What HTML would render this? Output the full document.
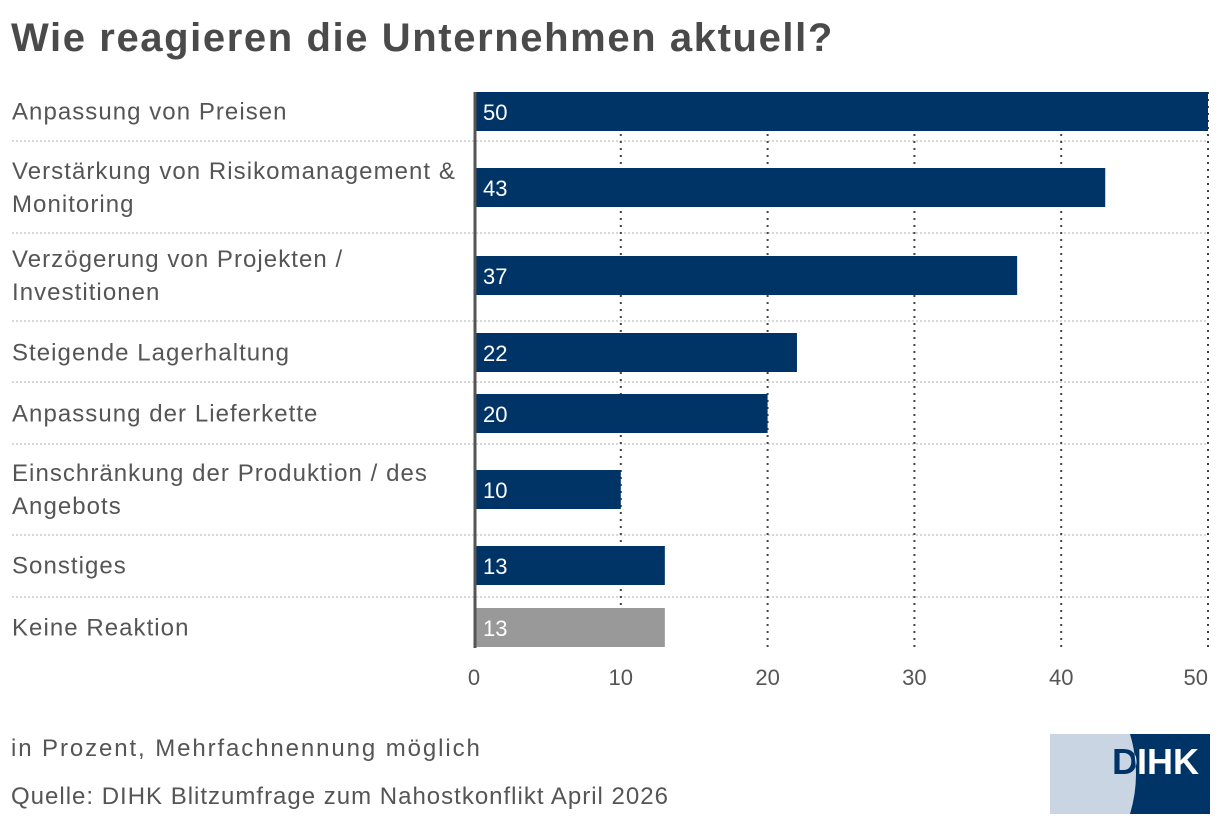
<!DOCTYPE html>
<html><head><meta charset="utf-8"><style>
body{margin:0;background:#fff;width:1220px;height:824px;overflow:hidden;font-family:"Liberation Sans",sans-serif;}
.t{position:absolute;color:#555;white-space:nowrap;}
</style></head><body>
<div class="t" style="left:11px;top:16px;font-size:40px;letter-spacing:1.6px;font-weight:bold;color:#4a4a4a;">Wie reagieren die Unternehmen aktuell?</div>
<svg id="c" width="1220" height="824" style="position:absolute;left:0;top:0"></svg>
<div class="t" style="left:11px;top:735px;font-size:24px;letter-spacing:1.9px;">in Prozent, Mehrfachnennung möglich</div>
<div class="t" style="left:11px;top:783px;font-size:24px;letter-spacing:1px;">Quelle: DIHK Blitzumfrage zum Nahostkonflikt April 2026</div>
<svg width="160" height="80" style="position:absolute;left:1050px;top:734px">
<clipPath id="cl"><path d="M0 0 H80 Q92 40 80 80 H0 Z"/></clipPath>
<rect width="160" height="80" fill="#003366"/>
<path d="M0 0 H80 Q92 40 80 80 H0 Z" fill="#c9d5e3"/>
<text x="62" y="40" font-size="36" font-weight="bold" fill="#fff" font-family="Liberation Sans,sans-serif">D</text>
<text x="62" y="40" font-size="36" font-weight="bold" fill="#003366" font-family="Liberation Sans,sans-serif" clip-path="url(#cl)">D</text>
<text x="87" y="40" font-size="36" font-weight="bold" fill="#fff" font-family="Liberation Sans,sans-serif">IHK</text>
</svg>
<script>
const categories=[["Anpassung von Preisen"],["Verstärkung von Risikomanagement &","Monitoring"],["Verzögerung von Projekten /","Investitionen"],["Steigende Lagerhaltung"],["Anpassung der Lieferkette"],["Einschränkung der Produktion / des","Angebots"],["Sonstiges"],["Keine Reaktion"]];
const values=[50,43,37,22,20,10,13,13];
const colors=["#003366","#003366","#003366","#003366","#003366","#003366","#003366","#999999"];
const ticks=[0,10,20,30,40,50];
const barTops=[92,168,256,333,394,470,546,608];
const seps=[141,233,321,382,444,535,597];
const NS="http://www.w3.org/2000/svg";
const svg=document.getElementById('c');
const x=v=>474+v*(1208-474)/50;
function el(t,a){const e=document.createElementNS(NS,t);for(const k in a)e.setAttribute(k,a[k]);svg.appendChild(e);return e;}
seps.forEach(y=>{const l=el('line',{x1:12,x2:1208,y1:y,y2:y,stroke:'#ccc','stroke-dasharray':'2,2','stroke-width':1.5});

});
ticks.forEach(t=>{if(t>0){const g=el('line',{x1:x(t),x2:x(t),y1:92,y2:648,stroke:'#444','stroke-dasharray':'2,5','stroke-width':2});

}
const tx=el('text',{x:x(t),y:685,'text-anchor':t==50?'end':'middle','font-size':22,fill:'#555'});tx.textContent=t;

});
values.forEach((v,i)=>{const y=barTops[i];
const r=el('rect',{x:476,y:y,width:x(v)-476,height:39,fill:colors[i]});


const vt=el('text',{x:483,y:y+28,'font-size':22,fill:'#fff'});vt.textContent=v;


const lines=categories[i];const c=y+19.5;
lines.forEach((s,j)=>{const lt=el('text',{x:12,y:c+8+(j-(lines.length-1)/2)*33,'font-size':24,'letter-spacing':1.05,fill:'#555'});lt.textContent=s;

});});
const ax=el('line',{x1:475,x2:475,y1:92,y2:648,stroke:'#555','stroke-width':3});


</script>
</body></html>
